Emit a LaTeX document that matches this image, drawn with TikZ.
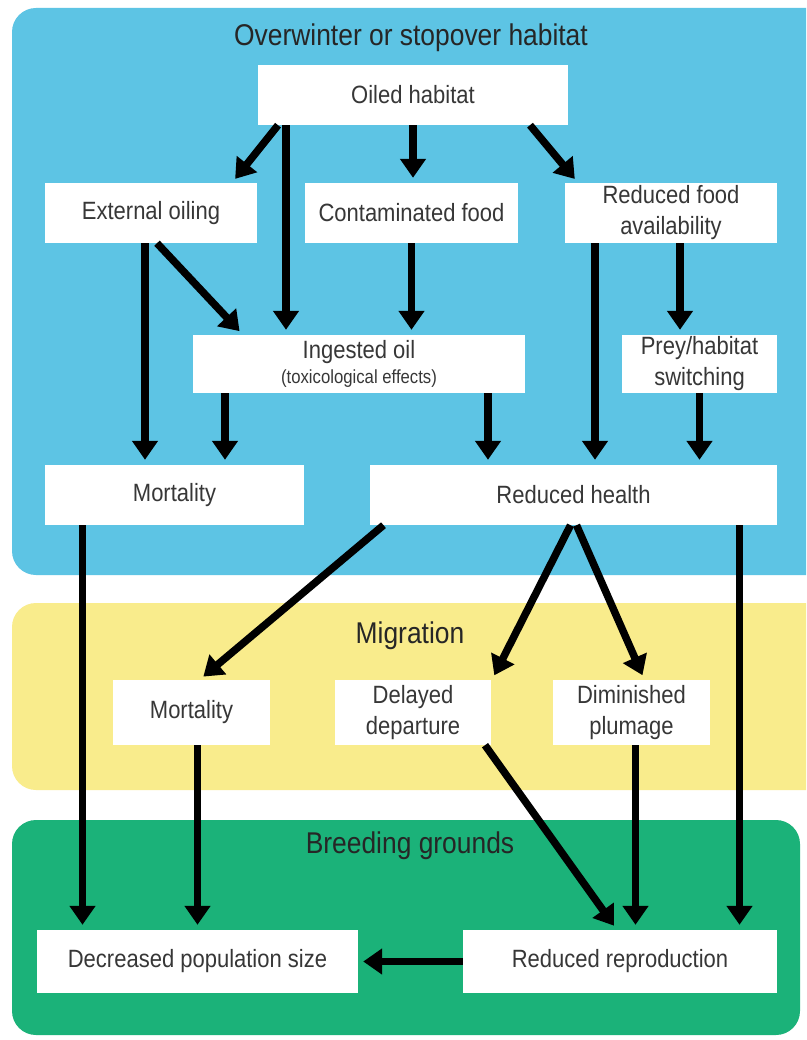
\documentclass[tikz,border=0pt]{standalone}
\usepackage{fontspec}
\setmainfont{Liberation Sans}[FakeStretch=0.88]
\usetikzlibrary{arrows.meta}
\definecolor{winterblue}{RGB}{93,196,228}
\definecolor{migyellow}{RGB}{249,236,140}
\definecolor{breedgreen}{RGB}{27,178,121}
\definecolor{boxtext}{RGB}{55,55,55}
\begin{document}
\begin{tikzpicture}[x=1pt, y=-1pt,
  box/.style={fill=white, inner sep=0pt, align=center, text=boxtext,
    font=\fontsize{25}{31}\selectfont},
  zone/.style={rounded corners=24pt},
  heading/.style={text=black!85, font=\fontsize{30}{34}\selectfont},
  arr/.style={-{Triangle[length=19pt,width=25pt]}, line width=7.5pt, shorten >=5pt}]
\clip (0,0) rectangle (806,1040);
\fill[white] (0,0) rectangle (806,1040);
\fill[winterblue, zone] (12,8) rectangle (830,575);
\fill[migyellow, zone] (12,603) rectangle (830,790);
\fill[breedgreen, zone] (12,820) rectangle (800,1035);
\node[heading] (t1) at (411,38) {Overwinter or stopover habitat};
\node[heading] (t2) at (410,636) {Migration};
\node[heading] (t3) at (410,846) {Breeding grounds};
\node[box, minimum width=310, minimum height=60] (oiled) at (413,95) {Oiled habitat};
\node[box, minimum width=212, minimum height=60] (ext) at (151,213) {External oiling};
\node[box, minimum width=213, minimum height=60] (cont) at (411.5,213) {Contaminated food};
\node[box, minimum width=212, minimum height=60] (redfood) at (671,213) {Reduced food\\availability};
\node[box, minimum width=332, minimum height=58] (ingest) at (359,364) {Ingested oil\\[-6pt]{\fontsize{19}{22}\selectfont(toxicological effects)}};
\node[box, minimum width=155, minimum height=58] (prey) at (699.5,364) {Prey/habitat\\switching};
\node[box, minimum width=259, minimum height=60] (mort) at (174.5,495) {Mortality};
\node[box, minimum width=407, minimum height=60] (health) at (573.5,495) {Reduced health};
\node[box, minimum width=157, minimum height=65] (mmort) at (191.5,712.5) {Mortality};
\node[box, minimum width=156, minimum height=65] (delay) at (413,712.5) {Delayed\\departure};
\node[box, minimum width=157, minimum height=65] (dimin) at (631.5,712.5) {Diminished\\plumage};
\node[box, minimum width=321, minimum height=63] (decr) at (197.5,961.5) {Decreased population size};
\node[box, minimum width=314, minimum height=63] (repro) at (620,961.5) {Reduced reproduction};
\draw[arr] ([xshift=-135]oiled.south) -- ([xshift=81]ext.north);
\draw[arr] ([xshift=-127]oiled.south) -- ([xshift=-73]ingest.north);
\draw[arr] (oiled.south) -- (oiled.south |- cont.north);
\draw[arr] ([xshift=117]oiled.south) -- ([xshift=-93]redfood.north);
\draw[arr] ([xshift=-6]ext.south) -- ([xshift=-6]ext.south |- mort.north);
\draw[arr] ([xshift=6]ext.south) -- ([xshift=-116]ingest.north);
\draw[arr] (cont.south) -- (cont.south |- ingest.north);
\draw[arr] ([xshift=-76]redfood.south) -- ([xshift=-76]redfood.south |- health.north);
\draw[arr] ([xshift=9]redfood.south) -- ([xshift=9]redfood.south |- prey.north);
\draw[arr] ([xshift=-134]ingest.south) -- ([xshift=-134]ingest.south |- mort.north);
\draw[arr] ([xshift=129]ingest.south) -- ([xshift=129]ingest.south |- health.north);
\draw[arr] (prey.south) -- (prey.south |- health.north);
\draw[arr] ([xshift=-92]mort.south) -- ([xshift=-92]mort.south |- decr.north);
\draw[arr] ([xshift=-190]health.south) -- ([xshift=8]mmort.north);
\draw[arr] ([xshift=-3]health.south) -- ([xshift=79]delay.north);
\draw[arr] ([xshift=3]health.south) -- ([xshift=13]dimin.north);
\draw[arr] ([xshift=166]health.south) -- ([xshift=166]health.south |- repro.north);
\draw[arr] ([xshift=6]mmort.south) -- ([xshift=6]mmort.south |- decr.north);
\draw[arr] ([xshift=72]delay.south) -- ([xshift=-3]repro.north);
\draw[arr] ([xshift=4]dimin.south) -- ([xshift=4]dimin.south |- repro.north);
\draw[arr] (repro.west) -- (decr.east);
\end{tikzpicture}
\end{document}
